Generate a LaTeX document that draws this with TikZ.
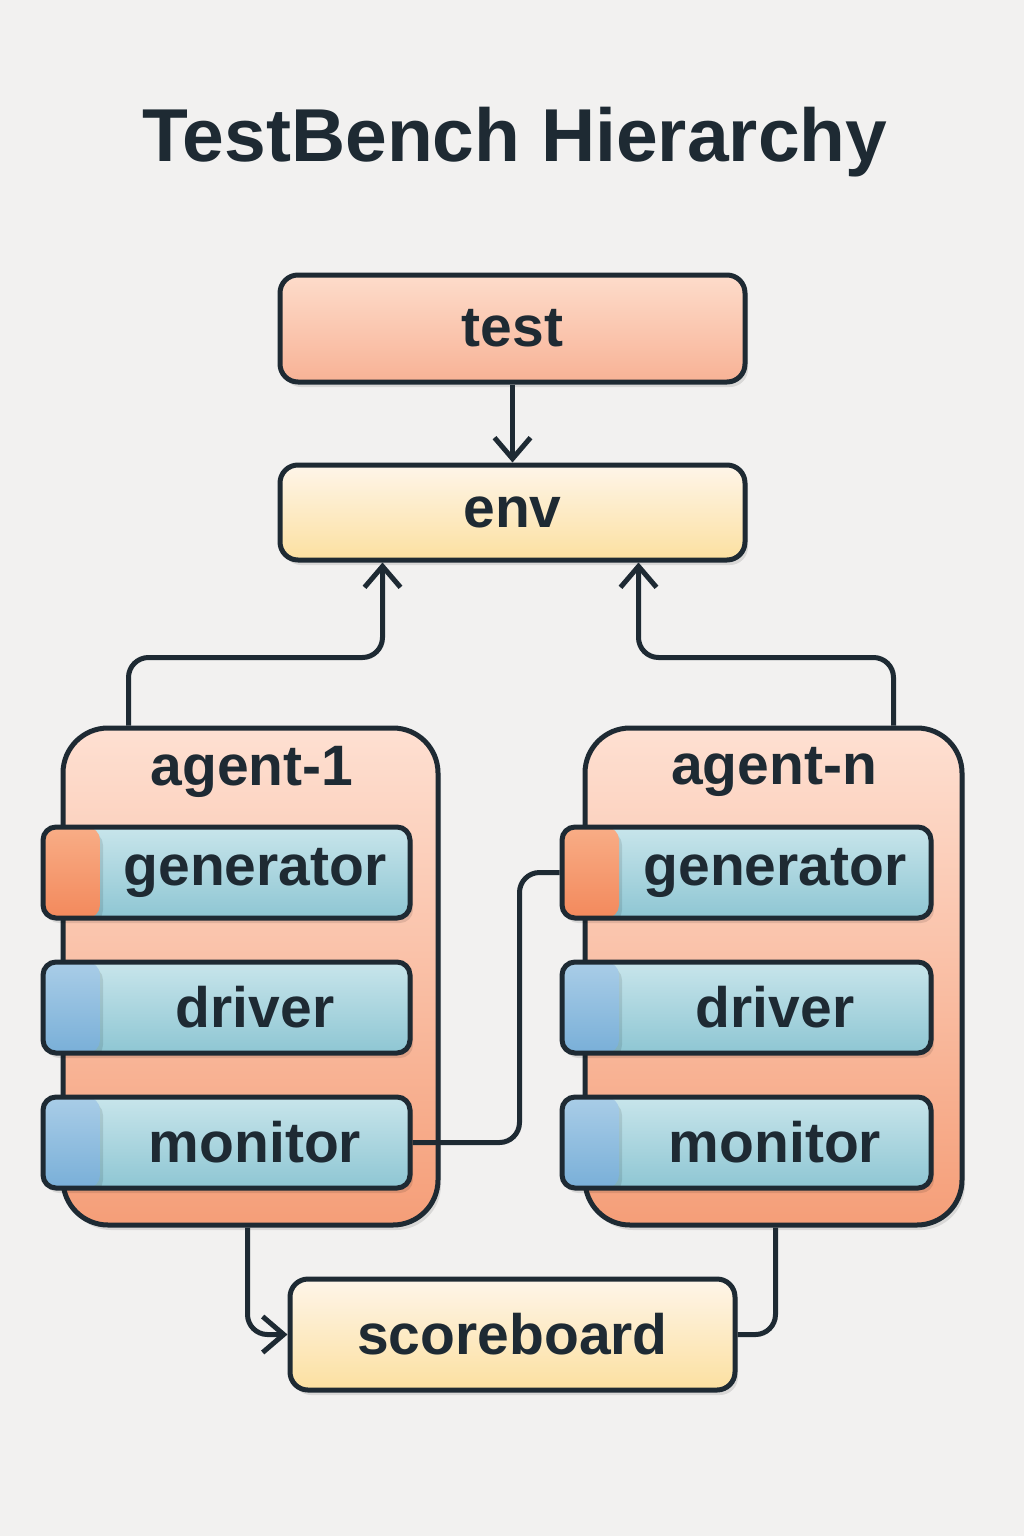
\documentclass[tikz,border=0pt]{standalone}
\usepackage{fontspec}
\setmainfont{Liberation Sans}
\usepackage{xcolor}
\usepackage{tikz}
\usetikzlibrary{
    positioning,
    arrows.meta,
    shadows
}

\definecolor{paper}{HTML}{F2F1F0}
\definecolor{ink}{HTML}{1E2A33}
\definecolor{testtop}{HTML}{FDDCCB}
\definecolor{testbot}{HTML}{F8B295}
\definecolor{envtop}{HTML}{FEF5E9}
\definecolor{envbot}{HTML}{FCE0A0}
\definecolor{agenttop}{HTML}{FEE0D2}
\definecolor{agentbot}{HTML}{F59E78}
\definecolor{bartop}{HTML}{C8E5EB}
\definecolor{barbot}{HTML}{8EC6D3}
\definecolor{gentop}{HTML}{F8AD86}
\definecolor{genbot}{HTML}{F3895C}
\definecolor{bluetop}{HTML}{A9CDE7}
\definecolor{bluebot}{HTML}{79AFD8}

\begin{document}
\begin{tikzpicture}[
    x=1pt, y=-1pt,
    text=ink,
    font=\bfseries,
    node distance=39pt,
    shade/.style={
        drop shadow={shadow xshift=3pt, shadow yshift=-5pt, fill=black, opacity=0.10}
    },
    box/.style={
        rectangle,
        rounded corners=18pt,
        draw=ink,
        line width=5pt,
        align=center,
        font=\fontsize{57}{60}\selectfont\bfseries,
        shade
    },
    top box/.style={box, top color=testtop, bottom color=testbot},
    mid box/.style={box, top color=envtop, bottom color=envbot},
    agent/.style={
        rectangle,
        rounded corners=45pt,
        draw=ink,
        line width=5pt,
        top color=agenttop,
        bottom color=agentbot,
        minimum height=497pt,
        shade
    },
    bar/.style 2 args={
        rectangle,
        rounded corners=13pt,
        draw=ink,
        line width=5pt,
        top color=bartop,
        bottom color=barbot,
        minimum height=91pt,
        font=\fontsize{57}{60}\selectfont\bfseries,
        path picture={
            \shade[top color=#1, bottom color=#2]
                (path picture bounding box.north west) rectangle
                ([xshift=57pt]path picture bounding box.south west);
        },
        shade
    },
    genbar/.style={bar={gentop}{genbot}},
    bluebar/.style={bar={bluetop}{bluebot}},
    link/.style={line width=5pt, draw=ink, rounded corners=20pt},
    arrow/.style={link, -{Straight Barb[length=21pt, width=36pt]}}
]

\useasboundingbox[fill=paper] (0,0) rectangle (1024,1536);

\node[font=\fontsize{75}{80}\selectfont\bfseries] (title) at (515,142) {TestBench Hierarchy};

\node[top box, minimum width=465pt, minimum height=107pt] (test) at (512.5,328.5) {test};
\node[mid box, minimum width=465pt, minimum height=95pt] (env) at (512.5,512.5) {env};

% agents
\node[agent, minimum width=375pt] (agent1) at (250.5,976.5) {};
\node[agent, minimum width=377pt] (agentn) at (773.5,976.5) {};
\node[font=\fontsize{57}{60}\selectfont\bfseries] (agent1title) at (252,772) {agent-1};
\node[font=\fontsize{57}{60}\selectfont\bfseries] (agentntitle) at (774,772) {agent-n};

\node[genbar, minimum width=367pt] (gen1) at (226.5,872.5) {\hspace*{57pt}generator};
\node[bluebar, minimum width=367pt, below=of gen1] (drv1) {\hspace*{57pt}driver};
\node[bluebar, minimum width=367pt, below=of drv1] (mon1) {\hspace*{57pt}monitor};

\node[genbar, minimum width=369pt] (genn) at (746.5,872.5) {\hspace*{57pt}generator};
\node[bluebar, minimum width=369pt, below=of genn] (drvn) {\hspace*{57pt}driver};
\node[bluebar, minimum width=369pt, below=of drvn] (monn) {\hspace*{57pt}monitor};

\node[mid box, minimum width=445pt, minimum height=111pt] (score) at (512.5,1334.5) {scoreboard};

% connections
\draw[arrow] (test) -- (env);
\draw[arrow] ([xshift=-122pt]agent1.north) -- ++(0,-68) -| ([xshift=-130pt]env.south);
\draw[arrow] ([xshift=120pt]agentn.north) -- ++(0,-68) -| ([xshift=126pt]env.south);
\draw[link] (mon1.east) -- ++(107,0) |- (genn.west);
\draw[arrow] ([xshift=-3pt]agent1.south) |- (score.west);
\draw[link] ([xshift=2pt]agentn.south) |- (score.east);

\end{tikzpicture}
\end{document}
